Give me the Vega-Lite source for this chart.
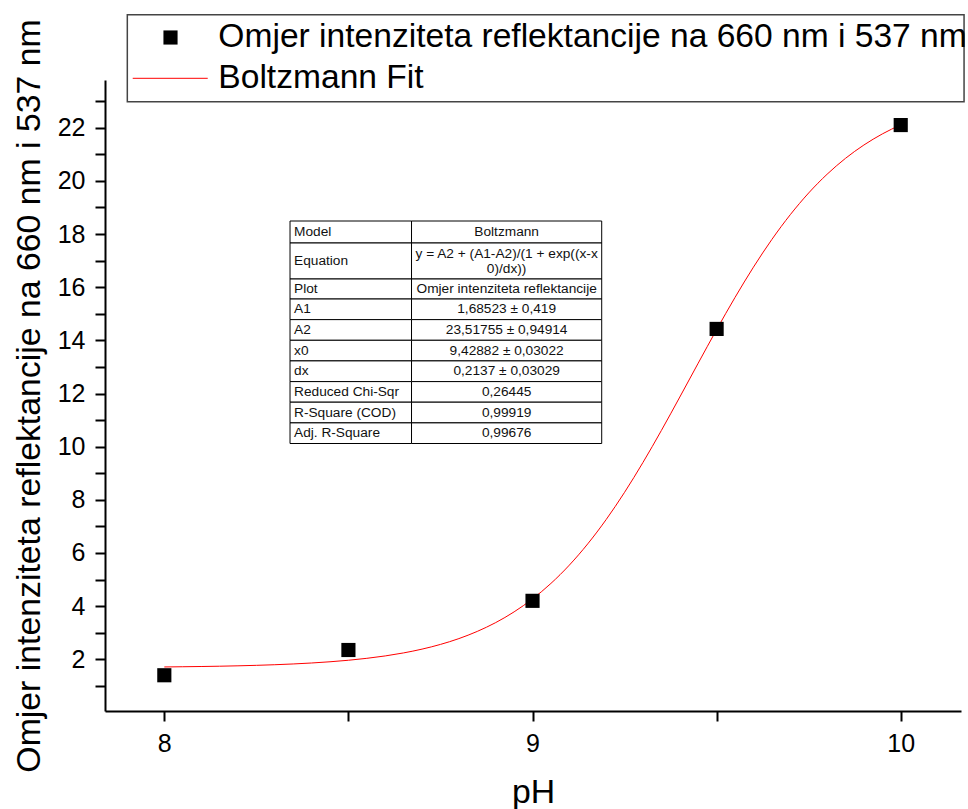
{
  "$schema": "https://vega.github.io/schema/vega-lite/v6.json",
  "width": 856,
  "height": 631,
  "autosize": {"type": "none"},
  "padding": {"left": 105, "top": 80, "right": 7, "bottom": 98},
  "background": "white",
  "config": {
    "view": {"stroke": null},
    "font": "Liberation Sans",
    "axis": {
      "domainColor": "black", "domainWidth": 2, "tickColor": "black", "tickWidth": 2,
      "labelColor": "black", "labelFontSize": 25, "labelFont": "Liberation Sans",
      "titleFont": "Liberation Sans", "titleFontSize": 33.8, "titleFontWeight": "normal",
      "titleColor": "black", "grid": false, "labelOverlap": false
    }
  },
  "datasets": {
    "points": [
      {"pH": 8.0, "ratio": 1.40},
      {"pH": 8.5, "ratio": 2.35},
      {"pH": 9.0, "ratio": 4.20},
      {"pH": 9.5, "ratio": 14.43},
      {"pH": 10.0, "ratio": 22.10}
    ],
    "fit": [
      {"pH": 8.00, "ratio": 1.712},
      {"pH": 8.05, "ratio": 1.720},
      {"pH": 8.10, "ratio": 1.729},
      {"pH": 8.15, "ratio": 1.740},
      {"pH": 8.20, "ratio": 1.755},
      {"pH": 8.25, "ratio": 1.773},
      {"pH": 8.30, "ratio": 1.796},
      {"pH": 8.35, "ratio": 1.825},
      {"pH": 8.40, "ratio": 1.861},
      {"pH": 8.45, "ratio": 1.907},
      {"pH": 8.50, "ratio": 1.964},
      {"pH": 8.55, "ratio": 2.037},
      {"pH": 8.60, "ratio": 2.127},
      {"pH": 8.65, "ratio": 2.241},
      {"pH": 8.70, "ratio": 2.383},
      {"pH": 8.75, "ratio": 2.560},
      {"pH": 8.80, "ratio": 2.779},
      {"pH": 8.85, "ratio": 3.050},
      {"pH": 8.90, "ratio": 3.381},
      {"pH": 8.95, "ratio": 3.785},
      {"pH": 9.00, "ratio": 4.273},
      {"pH": 9.05, "ratio": 4.855},
      {"pH": 9.10, "ratio": 5.543},
      {"pH": 9.15, "ratio": 6.344},
      {"pH": 9.20, "ratio": 7.258},
      {"pH": 9.25, "ratio": 8.283},
      {"pH": 9.30, "ratio": 9.407},
      {"pH": 9.35, "ratio": 10.611},
      {"pH": 9.40, "ratio": 11.867},
      {"pH": 9.45, "ratio": 13.142},
      {"pH": 9.50, "ratio": 14.403},
      {"pH": 9.55, "ratio": 15.616},
      {"pH": 9.60, "ratio": 16.754},
      {"pH": 9.65, "ratio": 17.795},
      {"pH": 9.70, "ratio": 18.727},
      {"pH": 9.75, "ratio": 19.545},
      {"pH": 9.80, "ratio": 20.249},
      {"pH": 9.85, "ratio": 20.848},
      {"pH": 9.90, "ratio": 21.349},
      {"pH": 9.95, "ratio": 21.766},
      {"pH": 10.00, "ratio": 22.108}
    ],
    "table": [
      {"param": "Model", "value": "Boltzmann", "top": 18.490, "bottom": 17.662},
      {"param": "Equation", "value": "y = A2 + (A1-A2)/(1 + exp((x-x\n0)/dx))", "top": 17.662, "bottom": 16.308},
      {"param": "Plot", "value": "Omjer intenziteta reflektancije", "top": 16.308, "bottom": 15.555},
      {"param": "A1", "value": "1,68523 ± 0,419", "top": 15.555, "bottom": 14.780},
      {"param": "A2", "value": "23,51755 ± 0,94914", "top": 14.780, "bottom": 14.002},
      {"param": "x0", "value": "9,42882 ± 0,03022", "top": 14.002, "bottom": 13.226},
      {"param": "dx", "value": "0,2137 ± 0,03029", "top": 13.226, "bottom": 12.448},
      {"param": "Reduced Chi-Sqr", "value": "0,26445", "top": 12.448, "bottom": 11.673},
      {"param": "R-Square (COD)", "value": "0,99919", "top": 11.673, "bottom": 10.894},
      {"param": "Adj. R-Square", "value": "0,99676", "top": 10.894, "bottom": 10.119}
    ],
    "legend": [
      {"label": "Omjer intenziteta reflektancije na 660 nm i 537 nm", "ly": 25.394},
      {"label": "Boltzmann Fit", "ly": 23.859}
    ]
  },
  "layer": [
    {
      "data": {"name": "fit"},
      "mark": {"type": "line", "strokeWidth": 1, "color": "#ff0000", "interpolate": "monotone"},
      "encoding": {
        "x": {
          "field": "pH", "type": "quantitative",
          "scale": {"domain": [7.8389, 10.1637], "nice": false, "zero": false},
          "axis": {
            "title": "pH", "values": [8, 8.5, 9, 9.5, 10], "tickCount": 30,
            "labelExpr": "datum.value % 1 === 0 ? format(datum.value, 'd') : ''",
            "tickSize": 10, "labelOverlap": false,
            "labelPadding": 10, "titlePadding": 19, "labelFlush": false,
            "encode": {"ticks": {"update": {"y2": {"signal": "datum.value % 1 === 0 ? 10 : 5"}}}}
          }
        },
        "y": {
          "field": "ratio", "type": "quantitative",
          "scale": {"domain": [0.055, 23.795], "nice": false, "zero": false},
          "axis": {
            "title": "Omjer intenziteta reflektancije na 660 nm i 537 nm",
            "values": [1, 2, 3, 4, 5, 6, 7, 8, 9, 10, 11, 12, 13, 14, 15, 16, 17, 18, 19, 20, 21, 22, 23],
            "tickCount": 50,
            "labelExpr": "datum.value % 2 === 0 ? format(datum.value, 'd') : ''",
            "tickSize": 10, "labelOverlap": false,
            "labelPadding": 10, "titlePadding": 11, "labelFlush": false,
            "encode": {"ticks": {"update": {"x2": {"signal": "datum.value % 2 === 0 ? -10 : -5"}}}}
          }
        }
      }
    },
    {
      "data": {"name": "points"},
      "mark": {"type": "point", "shape": "square", "filled": true, "size": 200, "opacity": 1, "color": "black"},
      "encoding": {
        "x": {"field": "pH", "type": "quantitative", "title": "pH"},
        "y": {"field": "ratio", "type": "quantitative", "title": "Omjer intenziteta reflektancije na 660 nm i 537 nm"}
      }
    },
    {
      "data": {"name": "table"},
      "mark": {"type": "rect", "fill": "white", "stroke": "black", "strokeWidth": 1},
      "encoding": {
        "x": {"datum": 8.3414, "type": "quantitative", "title": "pH"},
        "x2": {"datum": 8.6714},
        "y": {"field": "top", "type": "quantitative", "title": "Omjer intenziteta reflektancije na 660 nm i 537 nm"},
        "y2": {"field": "bottom"}
      }
    },
    {
      "data": {"name": "table"},
      "mark": {"type": "rect", "fill": "white", "stroke": "black", "strokeWidth": 1},
      "encoding": {
        "x": {"datum": 8.6714, "type": "quantitative", "title": "pH"},
        "x2": {"datum": 9.1879},
        "y": {"field": "top", "type": "quantitative", "title": "Omjer intenziteta reflektancije na 660 nm i 537 nm"},
        "y2": {"field": "bottom"}
      }
    },
    {
      "data": {"name": "table"},
      "transform": [{"calculate": "(datum.top + datum.bottom) / 2", "as": "mid"}],
      "mark": {"type": "text", "align": "left", "baseline": "middle", "fontSize": 13.7, "font": "Liberation Sans", "color": "#111"},
      "encoding": {
        "x": {"datum": 8.3523, "type": "quantitative", "title": "pH"},
        "y": {"field": "mid", "type": "quantitative", "title": "Omjer intenziteta reflektancije na 660 nm i 537 nm"},
        "text": {"field": "param"}
      }
    },
    {
      "data": {"name": "table"},
      "transform": [
        {"filter": "datum.param !== 'Equation'"},
        {"calculate": "(datum.top + datum.bottom) / 2", "as": "mid"}
      ],
      "mark": {"type": "text", "align": "center", "baseline": "middle", "fontSize": 13.7, "font": "Liberation Sans", "color": "#111"},
      "encoding": {
        "x": {"datum": 8.9297, "type": "quantitative", "title": "pH"},
        "y": {"field": "mid", "type": "quantitative", "title": "Omjer intenziteta reflektancije na 660 nm i 537 nm"},
        "text": {"field": "value"}
      }
    },
    {
      "data": {"name": "table"},
      "transform": [
        {"filter": "datum.param === 'Equation'"},
        {"calculate": "(datum.top + datum.bottom) / 2", "as": "mid"}
      ],
      "mark": {"type": "text", "align": "center", "baseline": "middle", "fontSize": 13.7, "font": "Liberation Sans", "color": "#111", "lineBreak": "\n", "lineHeight": 15, "dy": -7.5},
      "encoding": {
        "x": {"datum": 8.9297, "type": "quantitative", "title": "pH"},
        "y": {"field": "mid", "type": "quantitative", "title": "Omjer intenziteta reflektancije na 660 nm i 537 nm"},
        "text": {"field": "value"}
      }
    },
    {
      "data": {"values": [{}]},
      "mark": {"type": "rect", "fill": "white", "stroke": "#444444", "strokeWidth": 1.5, "clip": false},
      "encoding": {
        "x": {"datum": 7.8995, "type": "quantitative", "title": "pH"},
        "x2": {"datum": 10.172},
        "y": {"datum": 26.251, "type": "quantitative", "title": "Omjer intenziteta reflektancije na 660 nm i 537 nm"},
        "y2": {"datum": 22.978}
      }
    },
    {
      "data": {"values": [{}]},
      "mark": {"type": "point", "shape": "square", "filled": true, "size": 200, "opacity": 1, "color": "black", "clip": false},
      "encoding": {
        "x": {"datum": 8.0168, "type": "quantitative", "title": "pH"},
        "y": {"datum": 25.394, "type": "quantitative", "title": "Omjer intenziteta reflektancije na 660 nm i 537 nm"}
      }
    },
    {
      "data": {"values": [{}]},
      "mark": {"type": "rule", "color": "#ff0000", "strokeWidth": 1, "clip": false},
      "encoding": {
        "x": {"datum": 7.9142, "type": "quantitative", "title": "pH"},
        "x2": {"datum": 8.1179},
        "y": {"datum": 23.859, "type": "quantitative", "title": "Omjer intenziteta reflektancije na 660 nm i 537 nm"}
      }
    },
    {
      "data": {"name": "legend"},
      "mark": {"type": "text", "align": "left", "baseline": "middle", "fontSize": 33.6, "font": "Liberation Sans", "color": "black", "clip": false},
      "encoding": {
        "x": {"datum": 8.1467, "type": "quantitative", "title": "pH"},
        "y": {"field": "ly", "type": "quantitative", "title": "Omjer intenziteta reflektancije na 660 nm i 537 nm"},
        "text": {"field": "label"}
      }
    }
  ]
}
